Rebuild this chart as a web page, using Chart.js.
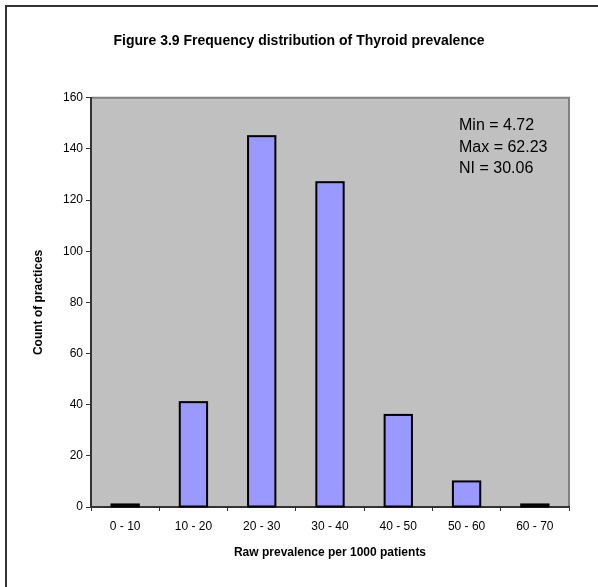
<!DOCTYPE html>
<html>
<head>
<meta charset="utf-8">
<title>Thyroid prevalence</title>
<script src="https://cdn.jsdelivr.net/npm/chart.js@4/dist/chart.umd.min.js"></script>
<style>
  html, body { margin: 0; padding: 0; background: #fff; overflow: hidden; }
  canvas { display: block; }
</style>
</head>
<body>
<canvas id="freqChart" width="598" height="587"></canvas>
<script>
/* ======================
   DATA
====================== */
const bands = ["0 - 10", "10 - 20", "20 - 30", "30 - 40", "40 - 50", "50 - 60", "60 - 70"];
const practiceCounts = [1, 41, 145, 127, 36, 10, 1];
const yTicks = [0, 20, 40, 60, 80, 100, 120, 140, 160];
const statLines = ["Min = 4.72", "Max = 62.23", "NI = 30.06"];

const FONT = "Arial, 'Liberation Sans', sans-serif";

/* ======================
   PLOT BACKGROUND + FRAME
====================== */
const plotBackground = {
  id: "plotBackground",
  beforeDraw(chart) {
    const { ctx, chartArea: a, width, height } = chart;
    ctx.save();
    ctx.fillStyle = "#fff";
    ctx.fillRect(0, 0, width, height);

    // outer chart frame (only left/top edges fit in the window)
    ctx.strokeStyle = "#333";
    ctx.lineWidth = 2;
    ctx.beginPath();
    ctx.moveTo(6, height);
    ctx.lineTo(6, 6);
    ctx.lineTo(width, 6);
    ctx.stroke();

    ctx.fillStyle = "#c0c0c0";
    ctx.fillRect(a.left, a.top, a.right - a.left, a.bottom - a.top);

    ctx.strokeStyle = "#808080";
    ctx.lineWidth = 2;
    ctx.beginPath();
    ctx.moveTo(a.left, a.top);
    ctx.lineTo(a.right, a.top);
    ctx.lineTo(a.right, a.bottom);
    ctx.stroke();
    ctx.restore();
  }
};

/* ======================
   BAR OUTLINES
   stroke centred on the bar edge, so even a 1-count bar reads as a black slab
====================== */
const barOutline = {
  id: "barOutline",
  afterDatasetsDraw(chart) {
    const { ctx } = chart;
    const meta = chart.getDatasetMeta(0);
    ctx.save();
    ctx.strokeStyle = "#000";
    ctx.lineWidth = 2;
    meta.data.forEach(bar => {
      const { x, y, base, width } = bar.getProps(["x", "y", "base", "width"], true);
      ctx.strokeRect(x - width / 2, y, width, base - y);
    });
    ctx.restore();
  }
};

/* ======================
   MIN / MAX / NI BOX
====================== */
const statsText = {
  id: "statsText",
  afterDraw(chart) {
    const { ctx, chartArea: a } = chart;
    ctx.save();
    ctx.fillStyle = "#000";
    ctx.font = "16px " + FONT;
    ctx.textAlign = "left";
    ctx.textBaseline = "middle";
    statLines.forEach((line, i) => {
      ctx.fillText(line, a.right - 110, a.top + 28 + i * 21.5);
    });
    ctx.restore();
  }
};

/* ======================
   CHART
====================== */
new Chart(document.getElementById("freqChart"), {
  type: "bar",
  data: {
    labels: bands,
    datasets: [{
      data: practiceCounts,
      backgroundColor: "#9999ff",
      borderWidth: 0,
      categoryPercentage: 1,
      barPercentage: 0.4
    }]
  },
  options: {
    responsive: false,
    devicePixelRatio: 1,
    animation: false,
    layout: { padding: { left: 29, right: 29, top: 0, bottom: 0 } },
    plugins: {
      legend: { display: false },
      tooltip: { enabled: false },
      title: {
        display: true,
        text: "Figure 3.9 Frequency distribution of Thyroid prevalence",
        color: "#000",
        font: { family: FONT, size: 14, weight: "bold" },
        padding: { top: 33, bottom: 48 }
      }
    },
    scales: {
      x: {
        grid: {
          offset: true,
          drawOnChartArea: false,
          tickLength: 4,
          color: "#333"
        },
        border: { color: "#333", width: 2 },
        ticks: {
          color: "#000",
          maxRotation: 0,
          padding: 8,
          font: { family: FONT, size: 12 }
        },
        title: {
          display: true,
          text: "Raw prevalence per 1000 patients",
          color: "#000",
          font: { family: FONT, size: 12, weight: "bold" },
          padding: { top: 0, bottom: 27 }
        },
        afterFit(scale) { scale.height = 80; }
      },
      y: {
        min: 0,
        max: 160,
        afterBuildTicks(scale) {
          scale.ticks = yTicks.map(v => ({ value: v }));
        },
        grid: {
          drawOnChartArea: false,
          tickLength: 5,
          color: "#333"
        },
        border: { color: "#333", width: 2 },
        ticks: {
          color: "#000",
          padding: 3,
          font: { family: FONT, size: 12 }
        },
        title: {
          display: true,
          text: "Count of practices",
          color: "#000",
          font: { family: FONT, size: 12, weight: "bold" },
          padding: { top: 2, bottom: 0 }
        },
        afterFit(scale) { scale.width = 62; }
      }
    }
  },
  plugins: [plotBackground, barOutline, statsText]
});
</script>
</body>
</html>
